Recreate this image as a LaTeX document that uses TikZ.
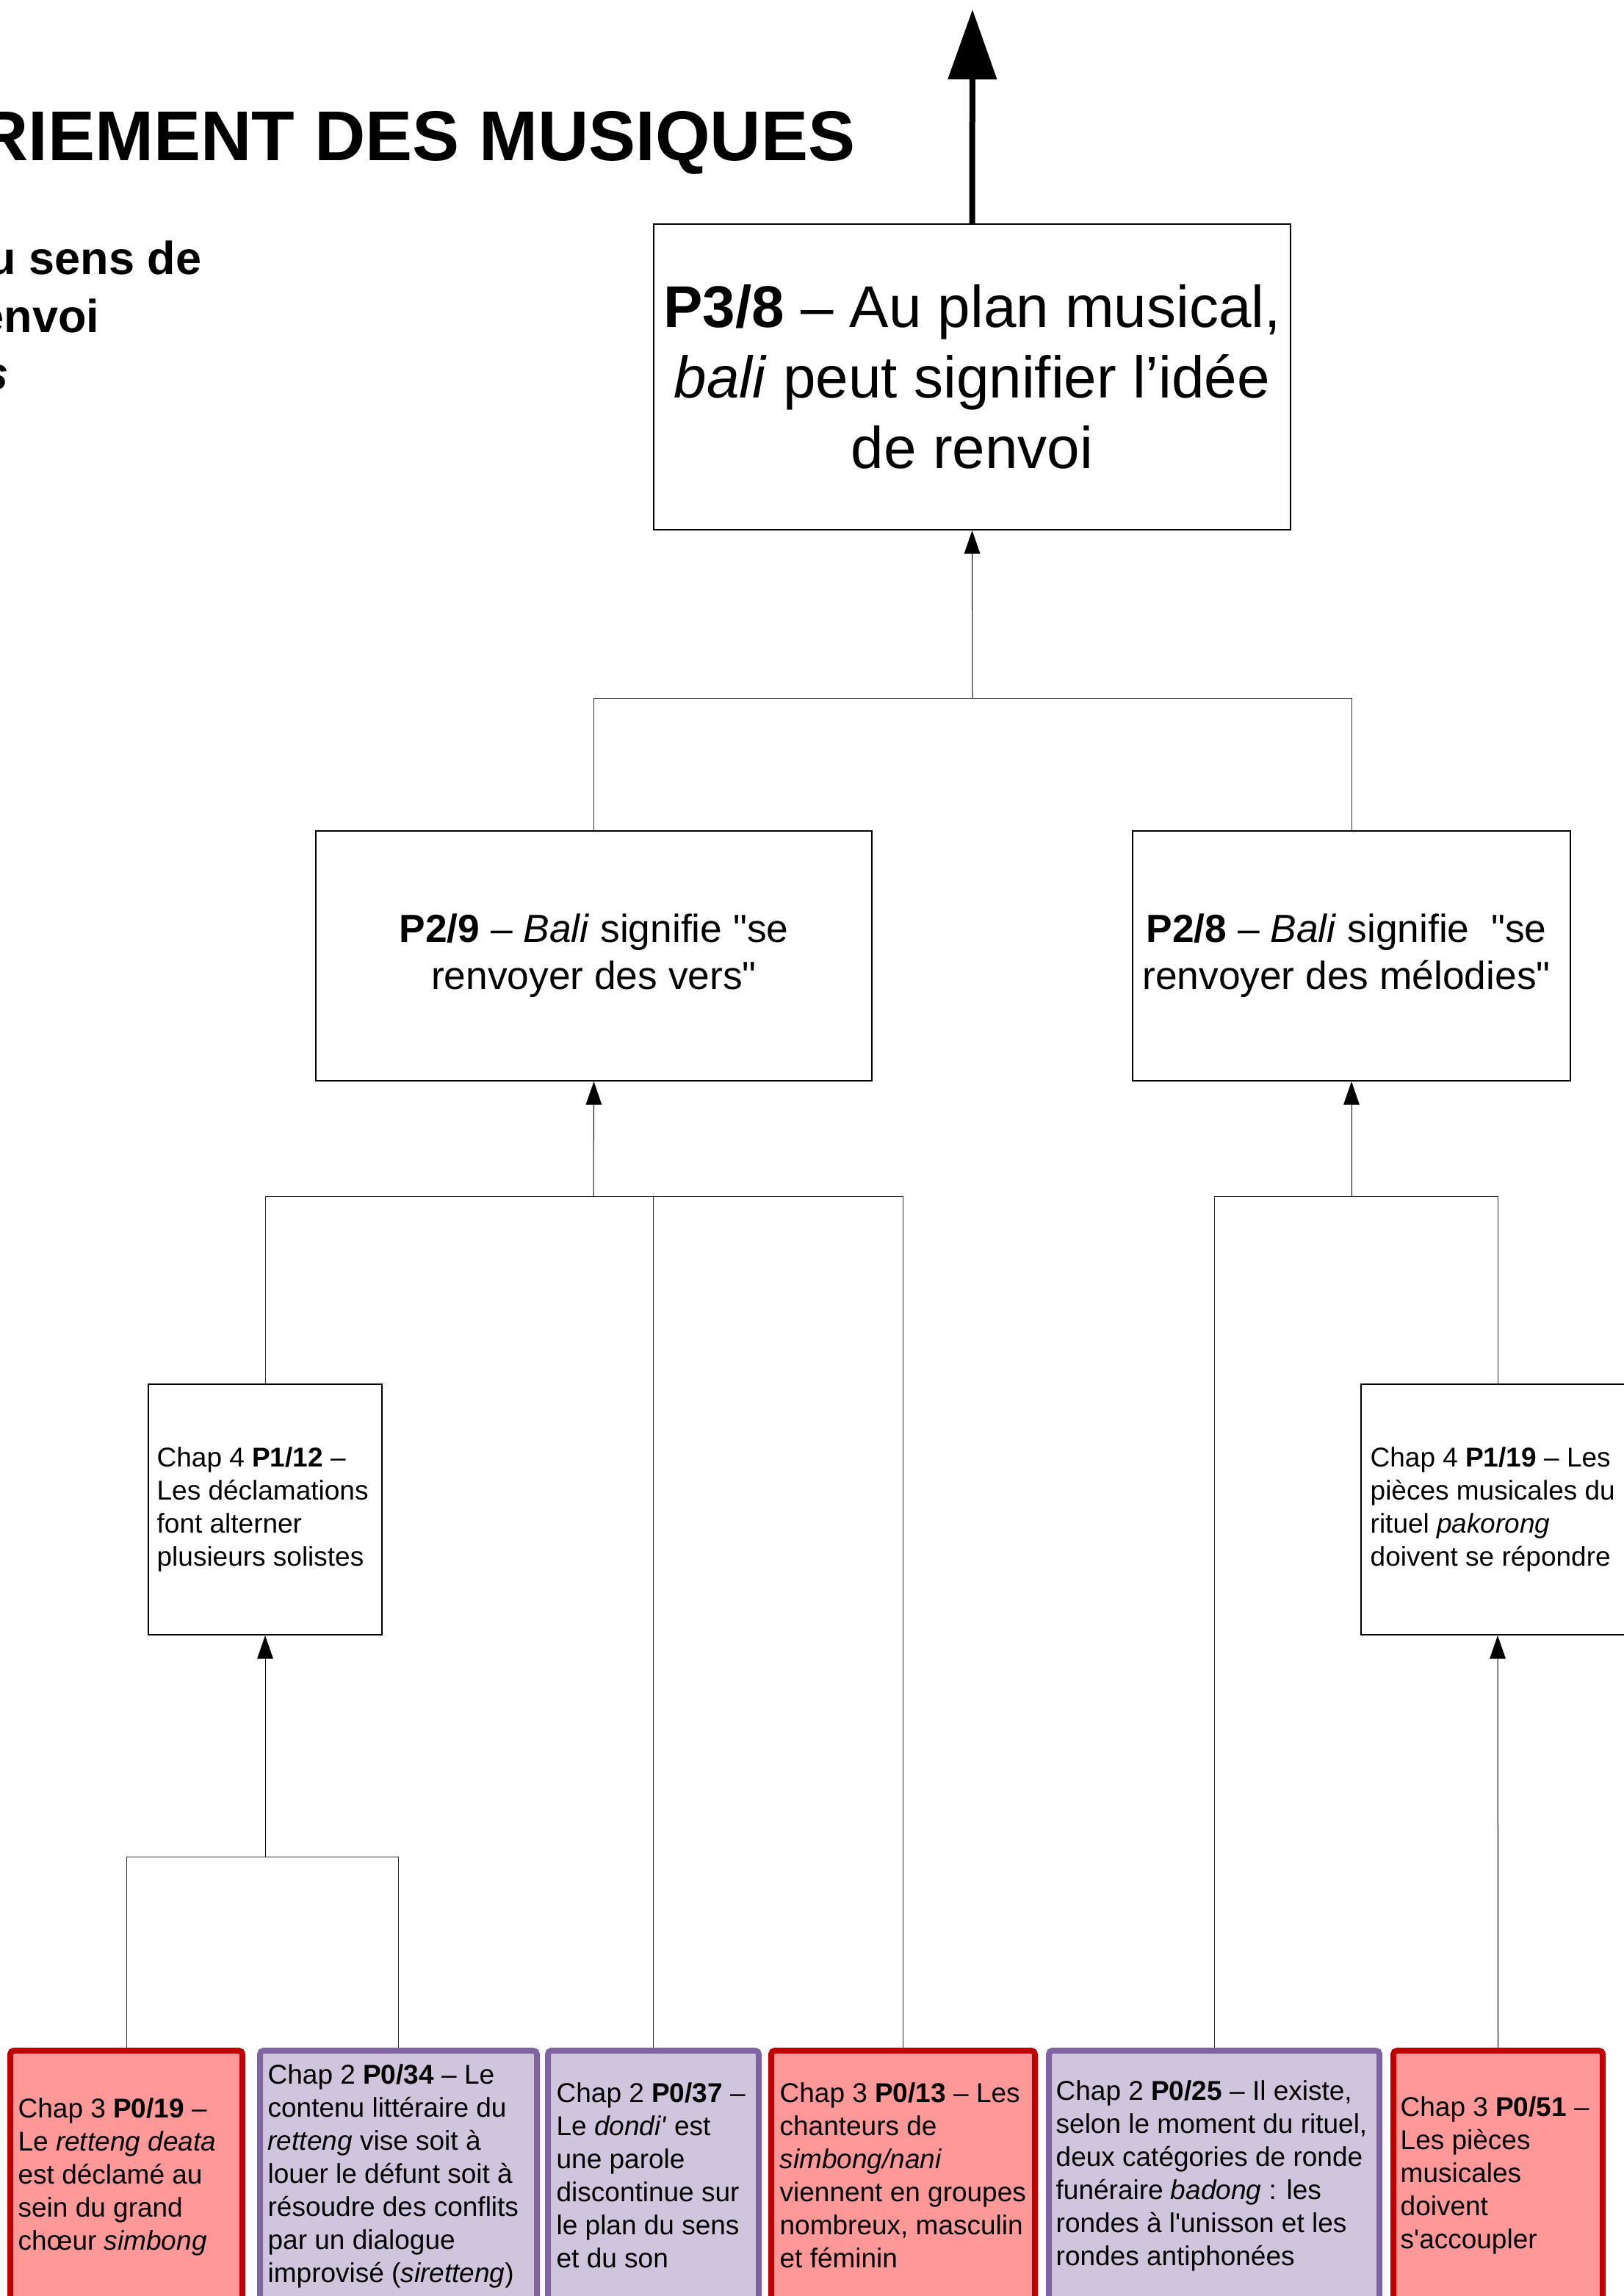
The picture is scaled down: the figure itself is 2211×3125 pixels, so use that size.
\documentclass[tikz,border=0pt]{standalone}
\usepackage{fontspec}
\setmainfont{Liberation Sans}
\usetikzlibrary{arrows.meta,fit,backgrounds}
\definecolor{redline}{HTML}{C00000}
\definecolor{redfill}{HTML}{FF9999}
\definecolor{purpline}{HTML}{8064A2}
\definecolor{purpfill}{HTML}{CFC5DD}
\definecolor{connc}{HTML}{303030}
\tikzset{
  pbox/.style={draw=black,line width=0.6pt,inner sep=0pt,align=center},
  conn/.style={draw=connc,line width=0.3pt},
  arr/.style={draw=black,line width=0.3pt,-{Triangle[length=9.5pt,width=6.5pt]}},
  bigarr/.style={draw=black,line width=2.4pt,-{Triangle[length=28.5pt,width=19.5pt]}},
  redbox/.style={draw=redline,fill=redfill,line width=2.4pt,rounded corners=1.5pt,inner sep=0pt},
  purpbox/.style={draw=purpline,fill=purpfill,line width=2.4pt,rounded corners=1.5pt,inner sep=0pt},
  boxtxt/.style={anchor=west,align=left,inner sep=0pt,font=\fontsize{11.1pt}{13.5pt}\selectfont},
  bigtxt/.style={font=\fontsize{24pt}{28.8pt}\selectfont},
  midtxt/.style={font=\fontsize{16pt}{19.2pt}\selectfont},
  titletxt/.style={anchor=base east,inner sep=0pt,font=\fontsize{28.8pt}{34pt}\selectfont\bfseries},
  subtxt/.style={anchor=base east,inner sep=0pt,font=\fontsize{18.9pt}{23pt}\selectfont\bfseries},
}
\begin{document}
\begin{tikzpicture}[x=0.3pt,y=-0.3pt]
\useasboundingbox (0,0) rectangle (2211,3125);
\clip (0,0) rectangle (2211,3125);

% title fragments
\node[titletxt] (title) at (1165,218) {RIEMENT DES MUSIQUES};
\node[subtxt] (sub1) at (275,373) {u sens de};
\node[subtxt] (sub2) at (136,452) {envoi};
\node[subtxt] (sub3) at (12,530) {\itshape s};

% upper boxes
\node[pbox,bigtxt,fit={(890,305) (1757,721)}] (p38) {};
\node[bigtxt,align=center,inner sep=0pt] (p38t) at (p38.center) {\textbf{P3/8} – Au plan musical,\\\textit{bali} peut signifier l’idée\\de renvoi};
\node[pbox,fit={(430,1131) (1187,1471)}] (p29) {};
\node[midtxt,align=center,inner sep=0pt] (p29t) at (p29.center) {\textbf{P2/9} – \textit{Bali} signifie \textquotedbl se\\renvoyer des vers\textquotedbl};
\node[pbox,fit={(1542,1131) (2138,1471)}] (p28) {};
\node[midtxt,align=center,inner sep=0pt] (p28t) at (1833,1301) {\textbf{P2/8} – \textit{Bali} signifie\ \ \textquotedbl se\\renvoyer des mélodies\textquotedbl};
\node[pbox,fit={(202,1884) (520,2225)}] (p112) {};
\node[boxtxt] (p112t) at (213,2054) {Chap 4 \textbf{P1/12} –\\Les déclamations\\font alterner\\plusieurs solistes};
\node[pbox,fit={(1853,1884) (2225,2225)}] (p119) {};
\node[boxtxt] (p119t) at (1865,2054) {Chap 4 \textbf{P1/19} – Les\\pièces musicales du\\rituel \textit{pakorong}\\doivent se répondre};

% bottom boxes
\node[redbox,fit={(14,2791) (330,3150)}] (b1) {};
\node[boxtxt] (b1t) at (24,2963) {Chap 3 \textbf{P0/19} –\\Le \textit{retteng deata}\\est déclamé au\\sein du grand\\chœur \textit{simbong}};
\node[purpbox,fit={(354,2791) (731,3150)}] (b2) {};
\node[boxtxt] (b2t) at (364,2962) {Chap 2 \textbf{P0/34} – Le\\contenu littéraire du\\\textit{retteng} vise soit à\\louer le défunt soit à\\résoudre des conflits\\par un dialogue\\improvisé (\textit{siretteng})};
\node[purpbox,fit={(746,2791) (1033,3150)}] (b3) {};
\node[boxtxt] (b3t) at (757,2961) {Chap 2 \textbf{P0/37} –\\Le \textit{dondi\textquotesingle} est\\une parole\\discontinue sur\\le plan du sens\\et du son};
\node[redbox,fit={(1050,2791) (1409,3150)}] (b4) {};
\node[boxtxt] (b4t) at (1061,2961) {Chap 3 \textbf{P0/13} – Les\\chanteurs de\\\textit{simbong/nani}\\viennent en groupes\\nombreux, masculin\\et féminin};
\node[purpbox,fit={(1428,2791) (1878,3150)}] (b5) {};
\node[boxtxt] (b5t) at (1437,2961) {Chap 2 \textbf{P0/25} – Il existe,\\selon le moment du rituel,\\deux catégories de ronde\\funéraire \textit{badong} : les\\rondes à l\textquotesingle unisson et les\\rondes antiphonées};
\node[redbox,fit={(1897,2791) (2182,3150)}] (b6) {};
\node[boxtxt] (b6t) at (1906,2961) {Chap 3 \textbf{P0/51} –\\Les pièces\\musicales\\doivent\\s\textquotesingle accoupler};

% junctions
\coordinate (top) at (1324,13);
\coordinate (j1) at (1324,950);
\coordinate (j2a) at (808,1628);
\coordinate (j2b) at (1840,1628);
\coordinate (j3) at (361,2527);

\begin{scope}[on background layer]
\draw[conn] (p29.north) |- (j1) -| (p28.north);
\draw[conn] (p112.north) |- (j2a) -| (b4.north);
\draw[conn] (b3.north) -- (b3.north |- j2a);
\draw[conn] (b5.north) |- (j2b) -| (p119.north);
\draw[conn] (b1.north) |- (j3) -| (b2.north);
\end{scope}

\draw[bigarr] (p38.north) -- (top);
\draw[arr] (j1) -- (p38.south);
\draw[arr] (j2a) -- (p29.south);
\draw[arr] (j2b) -- (p28.south);
\draw[arr] (j3) -- (p112.south);
\draw[arr] (b6.north) -- (p119.south);
\end{tikzpicture}
\end{document}
